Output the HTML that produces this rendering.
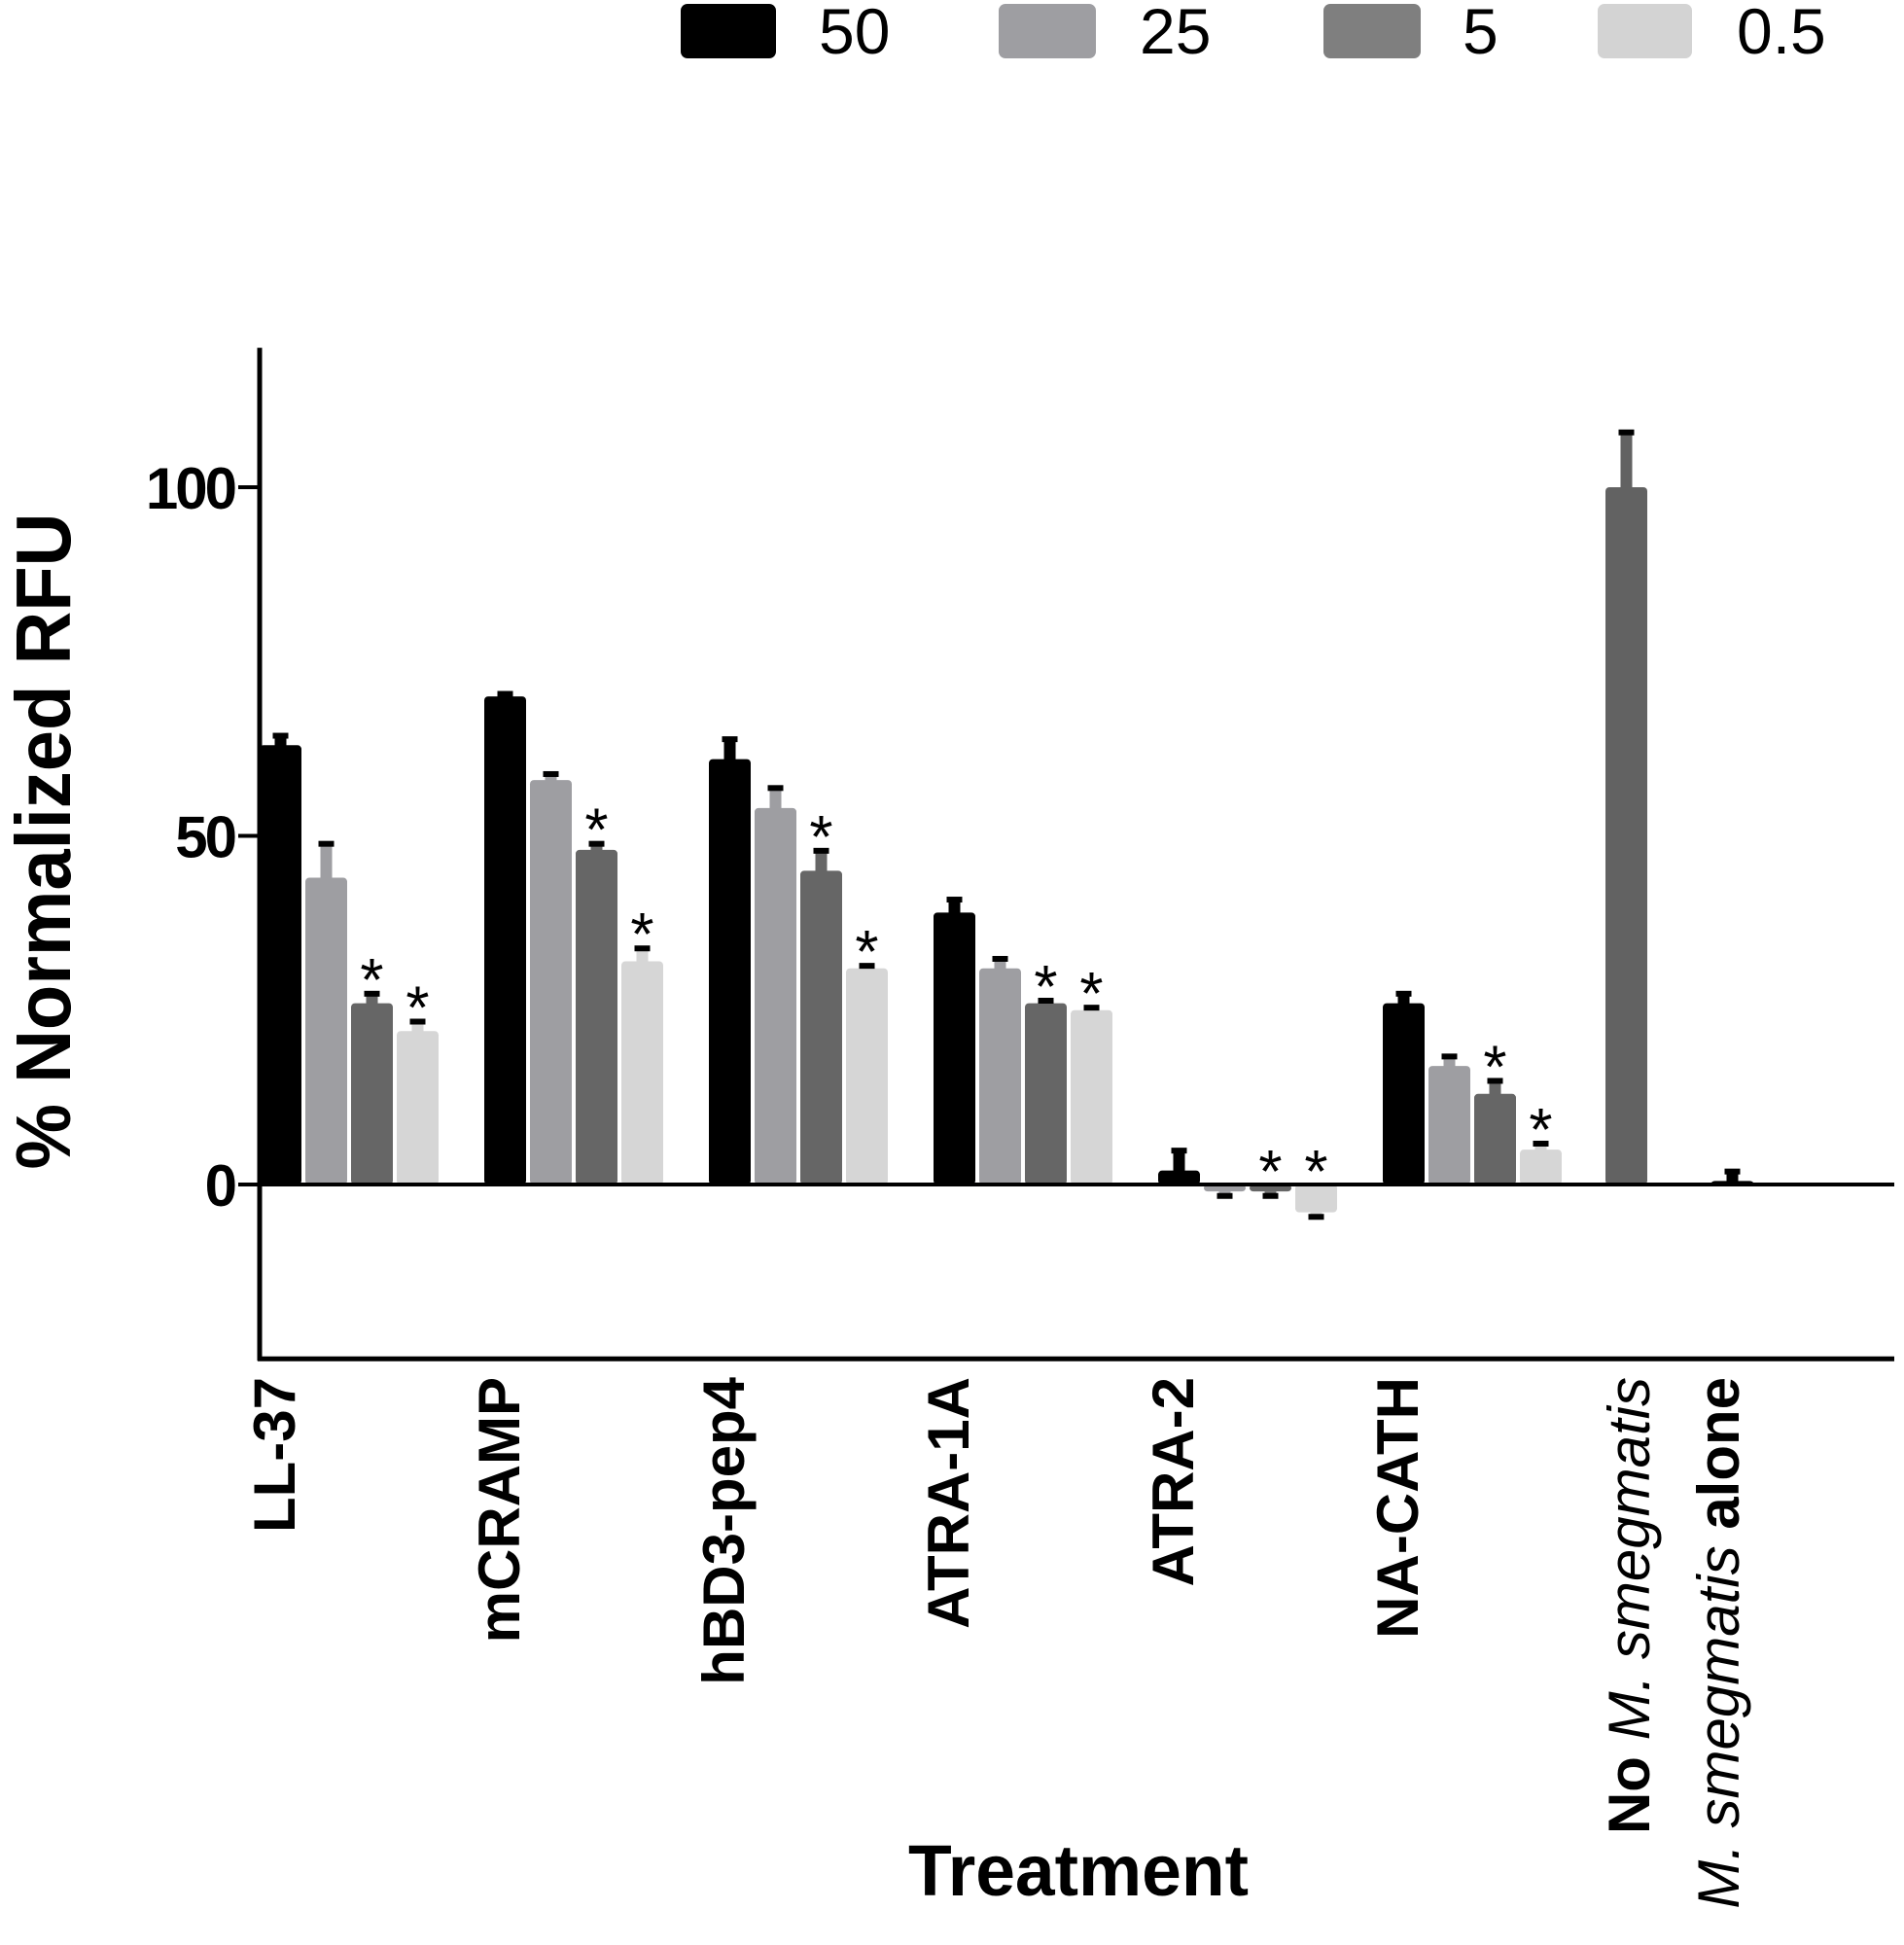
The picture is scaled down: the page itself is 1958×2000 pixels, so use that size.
<!DOCTYPE html>
<html><head><meta charset="utf-8"><style>
html,body{margin:0;padding:0;background:#fff;}
svg{display:block;font-family:"Liberation Sans",Arial,sans-serif;}
</style></head><body>
<svg id="chart" width="1958" height="2000" viewBox="0 0 1958 2000" xmlns="http://www.w3.org/2000/svg">
<g id="legend">
  <rect x="700" y="4" width="98" height="56" rx="7" fill="#000"/>
  <text x="842" y="55" font-size="66">50</text>
  <rect x="1027" y="4" width="100" height="56" rx="7" fill="#9e9ea2"/>
  <text x="1172" y="55" font-size="66">25</text>
  <rect x="1361" y="4" width="100" height="56" rx="7" fill="#7f7f7f"/>
  <text x="1504" y="55" font-size="66">5</text>
  <rect x="1643" y="4" width="97" height="56" rx="7" fill="#d3d3d3"/>
  <text x="1786" y="55" font-size="66">0.5</text>
</g>
<g id="marks"></g>
<g id="axes"></g>
<text transform="translate(72,865) rotate(-90)" text-anchor="middle" font-size="80" font-weight="bold" textLength="675" lengthAdjust="spacingAndGlyphs">% Normalized RFU</text>
<text x="1109" y="1949" text-anchor="middle" font-size="74" font-weight="bold" textLength="350" lengthAdjust="spacingAndGlyphs">Treatment</text>
</svg>
<script>
const categories = ["LL-37","mCRAMP","hBD3-pep4","ATRA-1A","ATRA-2","NA-CATH"];
const seriesNames = ["50","25","5","0.5"];
const values50  = [63, 70, 61, 39, 2, 26];
const values25  = [44, 58, 54, 31, -1, 17];
const values5   = [26, 48, 45, 26, -1, 13];
const values05  = [22, 32, 31, 25, -4, 5];
const err50  = [1.5, 0.5, 3, 2, 3, 1.5];
const err25  = [5, 1, 3, 1.5, 0.5, 1.5];
const err5   = [1.5, 1, 3, 0.5, 0.5, 2];
const err05  = [1.5, 2, 0.5, 0.5, 0.5, 1];
const star5  = [true, true, true, true, true, true];
const star05 = [true, true, true, true, true, true];
const controlLabels = ["No M. smegmatis", "M. smegmatis alone"];
const controlValues = [100, 0.5];
const controlErrors = [8, 1.5];
const yTicks = [0, 50, 100];
const yMin = -25, yMax = 120;

const NS = "http://www.w3.org/2000/svg";
const X0 = 267, XEND = 1948, Y0 = 1218, PX100 = 717;
const yScale = v => Y0 - v * PX100 / 100;
const groupX = i => X0 + i * 231;
const barX = (i, s) => groupX(i) + s * 47;
const controlX = [1651, 1760];
const BW = 43;
const colors = ["#000000", "#9e9ea2", "#666666", "#d6d6d6"];
const series = [values50, values25, values5, values05];
const errs = [err50, err25, err5, err05];
const marks = document.getElementById("marks");
const axes = document.getElementById("axes");

function mk(tag, attrs, parent) {
  const e = document.createElementNS(NS, tag);
  for (const k in attrs) e.setAttribute(k, attrs[k]);
  parent.appendChild(e);
  return e;
}
function drawBar(x, v, err, color, parent) {
  const top = yScale(Math.max(v, 0)), bot = yScale(Math.min(v, 0));
  const r = mk("rect", {x: x, y: top, width: BW, height: Math.max(bot - top, 1), fill: color, rx: 4}, parent);
  
  
  const ye = v >= 0 ? yScale(v + err) : yScale(v - err);
  const yb = yScale(v);
  const e = mk("rect", {x: x + BW / 2 - 6, y: Math.min(ye, yb), width: 12, height: Math.abs(yb - ye) + 2, fill: color}, parent);
  
  
  const c = mk("rect", {x: x + BW / 2 - 8, y: ye - 2, width: 16, height: 6, fill: "#000"}, parent);
  
  
  return ye;
}
function drawStar(x, y, parent) {
  const t = mk("text", {x: x + BW / 2, y: y, "text-anchor": "middle", "font-size": "62"}, parent);
  
  
  t.textContent = "*";
}

categories.forEach((cat, i) => {
  const g = mk("g", {}, marks);
  
  
  series.forEach((vals, s) => {
    const ye = drawBar(barX(i, s), vals[i], errs[s][i], colors[s], g);
    const topY = Math.min(ye, yScale(Math.max(vals[i], 0)));
    if (s === 2 && star5[i]) drawStar(barX(i, s), topY + 8, g);
    if (s === 3 && star05[i]) drawStar(barX(i, s), topY + 8, g);
  });
  const lx = groupX(i) + 36;
  const t = mk("text", {transform: "translate(" + lx + ",1416) rotate(-90)", "text-anchor": "end", "font-size": "60", "font-weight": "bold"}, axes);
  
  
  t.textContent = cat;
});
controlValues.forEach((v, i) => {
  drawBar(controlX[i], v, controlErrors[i], i === 0 ? "#626262" : "#000000", marks);
});
(function () {
  const t1 = mk("text", {transform: "translate(1696,1416) rotate(-90)", "text-anchor": "end", "font-size": "60"}, axes);
  
  
  const a = mk("tspan", {"font-weight": "bold"}, t1); a.textContent = "No ";
  const b = mk("tspan", {"font-style": "italic"}, t1); b.textContent = "M. smegmatis";
  const t2 = mk("text", {transform: "translate(1788,1416) rotate(-90)", "text-anchor": "end", "font-size": "60"}, axes);
  
  
  const c = mk("tspan", {"font-style": "italic"}, t2); c.textContent = "M. smegmatis ";
  const d = mk("tspan", {"font-weight": "bold"}, t2); d.textContent = "alone";
})();

const ya = mk("line", {x1: X0, x2: X0, y1: yScale(yMax), y2: yScale(yMin) + 2, stroke: "#000", "stroke-width": 5}, axes);


const xa = mk("line", {x1: X0 - 2, x2: XEND, y1: yScale(yMin), y2: yScale(yMin), stroke: "#000", "stroke-width": 5}, axes);


const zl = mk("line", {x1: X0, x2: XEND, y1: Y0, y2: Y0, stroke: "#000", "stroke-width": 4}, axes);


yTicks.forEach(v => {
  const tk = mk("line", {x1: X0 - 22, x2: X0, y1: yScale(v), y2: yScale(v), stroke: "#000", "stroke-width": 4}, axes);
  
  
  const tl = mk("text", {x: X0 - 26, y: yScale(v) + 22, "text-anchor": "end", "font-size": "60", "font-weight": "bold", "letter-spacing": "-3"}, axes);
  
  
  tl.textContent = String(v);
});
</script>
</body></html>
